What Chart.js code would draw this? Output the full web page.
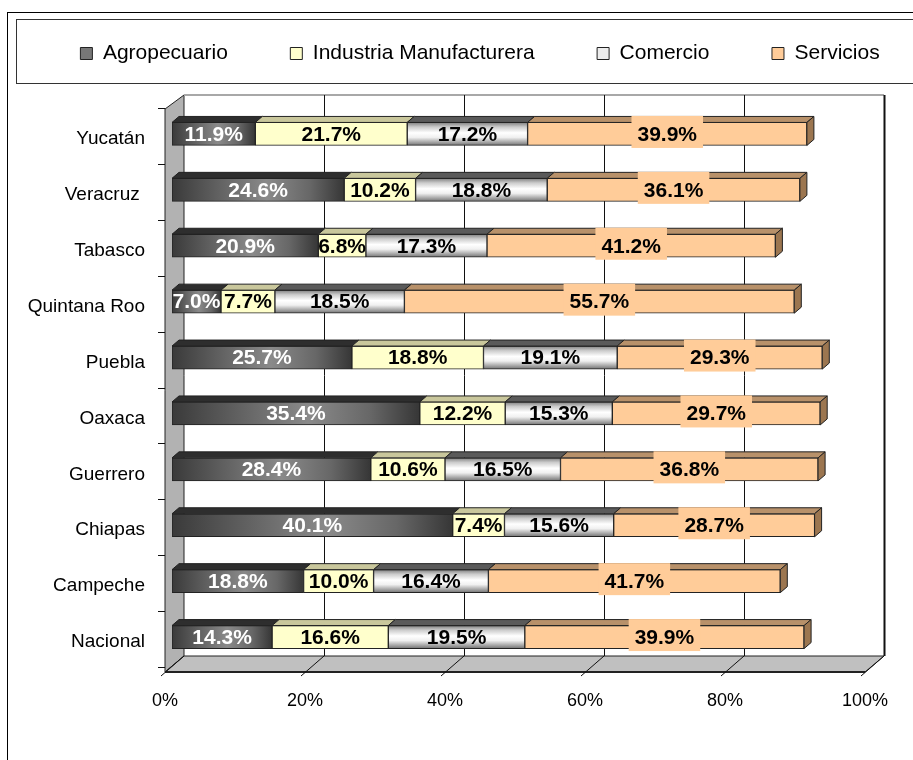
<!DOCTYPE html>
<html>
<head>
<meta charset="utf-8">
<script src="https://cdn.jsdelivr.net/npm/chart.js@4.4.0/dist/chart.umd.min.js"></script>
<style>
  html, body { margin: 0; padding: 0; background: #fff; }
  canvas { display: block; }
</style>
</head>
<body>
<canvas id="graphSecteurs" width="913" height="760"></canvas>
<script>
//********************************************************************Données*****************************************************************

const ESTADOS = ['Yucatán', 'Veracruz ', 'Tabasco', 'Quintana Roo', 'Puebla', 'Oaxaca', 'Guerrero', 'Chiapas', 'Campeche', 'Nacional']
const SECTORES = ['Agropecuario', 'Industria Manufacturera', 'Comercio', 'Servicios']

const AGRO = [11.9, 24.6, 20.9, 7.0, 25.7, 35.4, 28.4, 40.1, 18.8, 14.3]
const INDUSTRIA = [21.7, 10.2, 6.8, 7.7, 18.8, 12.2, 10.6, 7.4, 10.0, 16.6]
const COMERCIO = [17.2, 18.8, 17.3, 18.5, 19.1, 15.3, 16.5, 15.6, 16.4, 19.5]
const SERVICIOS = [39.9, 36.1, 41.2, 55.7, 29.3, 29.7, 36.8, 28.7, 41.7, 39.9]

const X_TICKS = [0, 20, 40, 60, 80, 100]

// couleurs de face avant (légende) puis des faces du dessus en 3D
const COULEURS = ['#777777', '#FFFFCC', '#EDEDED', '#FFCC99']
const COULEURS_DESSUS = ['#2e2e2e', '#C9C79C', '#5a5a5a', '#B8916A']
const COULEUR_BOUT = '#9C7650'

const POLICE = '"Liberation Sans", Arial, sans-serif'

//********************************************************************Dégradés*****************************************************************

// dégradé horizontal sombre / clair / sombre pour l'agropecuario
function fondAgro(ctx) {
  if (ctx.type !== 'data') return COULEURS[0]
  const x = ctx.chart.scales.x
  if (!x) return COULEURS[0]
  const x0 = x.getPixelForValue(0)
  const x1 = x.getPixelForValue(AGRO[ctx.dataIndex])
  if (!isFinite(x0) || !isFinite(x1) || x1 === x0) return COULEURS[0] // échelles pas encore prêtes
  const g = ctx.chart.ctx.createLinearGradient(x0, 0, x1, 0)
  g.addColorStop(0, '#3a3a3a')
  g.addColorStop(0.55, '#8a8a8a')
  g.addColorStop(0.8, '#676767')
  g.addColorStop(1, '#363636')
  return g
}

// dégradé vertical "métal" pour le commerce
function fondComercio(ctx) {
  if (ctx.type !== 'data') return COULEURS[2]
  const y = ctx.chart.scales.y
  if (!y) return COULEURS[2]
  const yc = y.getPixelForValue(ctx.dataIndex)
  if (!isFinite(yc)) return COULEURS[2]
  const g = ctx.chart.ctx.createLinearGradient(0, yc - 11.5, 0, yc + 11.5)
  g.addColorStop(0, '#808080')
  g.addColorStop(0.2, '#cccccc')
  g.addColorStop(0.45, '#ffffff')
  g.addColorStop(0.65, '#f0f0f0')
  g.addColorStop(1, '#737373')
  return g
}

//********************************************************************Plugin 3D*****************************************************************

const cadre3D = {
  id: 'cadre3D',

  beforeDraw(chart) {
    const c = chart.ctx
    c.save()
    c.fillStyle = '#fff'
    c.fillRect(0, 0, chart.width, chart.height)
    c.lineWidth = 1
    c.strokeStyle = '#000'
    c.strokeRect(7.5, 12.5, chart.width, chart.height) // cadre extérieur, coupé à droite et en bas
    c.strokeStyle = '#333'
    c.strokeRect(16.5, 19.5, chart.width, 64) // cadre de la légende
    c.restore()
  },

  beforeDatasetsDraw(chart) {
    const { ctx: c, chartArea: a, scales: { x } } = chart
    const L = a.left, R = a.right, T = a.top, B = a.bottom
    c.save()
    c.lineWidth = 1
    c.strokeStyle = '#222'

    // mur de gauche
    c.fillStyle = '#B2B2B2'
    c.beginPath()
    c.moveTo(L - 7, T + 3); c.lineTo(L + 12, T - 11); c.lineTo(L + 12, B - 9); c.lineTo(L - 7, B + 7)
    c.closePath(); c.fill(); c.stroke()

    // sol
    c.fillStyle = '#C0C0C0'
    c.beginPath()
    c.moveTo(L - 7, B + 7); c.lineTo(L + 12, B - 9); c.lineTo(R + 12, B - 9); c.lineTo(R - 7, B + 7)
    c.closePath(); c.fill(); c.stroke()
    c.lineWidth = 2
    c.beginPath(); c.moveTo(L - 7, B + 7); c.lineTo(R - 7, B + 7); c.stroke()

    // bord du haut du mur du fond
    c.strokeStyle = '#A8A8A8'
    c.beginPath(); c.moveTo(L + 12, T - 11); c.lineTo(R + 12, T - 11); c.stroke()

    // lignes de la grille sur le fond et sur le sol
    c.strokeStyle = '#111'
    X_TICKS.forEach(v => {
      const px = x.getPixelForValue(v)
      c.lineWidth = v === 100 ? 2 : 1
      if (v > 0) {
        c.beginPath(); c.moveTo(px + 12.5, T - 11); c.lineTo(px + 12.5, B - 9); c.stroke()
      }
      c.lineWidth = 1
      c.beginPath(); c.moveTo(px + 12, B - 9); c.lineTo(px - 11, B + 11); c.stroke()
    })

    // petites graduations de l'axe des catégories
    const pas = (B - T) / ESTADOS.length
    for (let i = 0; i <= ESTADOS.length; i++) {
      const yb = Math.round(T + i * pas + 2) + 0.5
      c.beginPath(); c.moveTo(L - 14, yb); c.lineTo(L - 7, yb); c.stroke()
    }
    c.restore()
  },

  afterDatasetsDraw(chart) {
    const c = chart.ctx
    const n = chart.data.datasets.length
    c.save()
    c.lineWidth = 1
    c.strokeStyle = '#222'

    // faces du dessus et bout des barres
    for (let d = 0; d < n; d++) {
      chart.getDatasetMeta(d).data.forEach(el => {
        const x0 = Math.min(el.base, el.x), x1 = Math.max(el.base, el.x)
        const yt = el.y - el.height / 2, yb = el.y + el.height / 2
        c.fillStyle = COULEURS_DESSUS[d]
        c.beginPath()
        c.moveTo(x0, yt); c.lineTo(x0 + 7, yt - 6); c.lineTo(x1 + 7, yt - 6); c.lineTo(x1, yt)
        c.closePath(); c.fill(); c.stroke()
        if (d === n - 1) {
          c.fillStyle = COULEUR_BOUT
          c.beginPath()
          c.moveTo(x1, yt); c.lineTo(x1 + 7, yt - 6); c.lineTo(x1 + 7, yb - 6); c.lineTo(x1, yb)
          c.closePath(); c.fill(); c.stroke()
        }
      })
    }

    // étiquettes de valeurs
    c.font = 'bold 21px ' + POLICE
    c.textAlign = 'center'
    c.textBaseline = 'middle'
    for (let d = 0; d < n; d++) {
      const valeurs = chart.data.datasets[d].data
      chart.getDatasetMeta(d).data.forEach((el, i) => {
        const texte = valeurs[i].toFixed(1) + '%'
        const cx = (el.base + el.x) / 2
        if (d === n - 1) {
          const w = c.measureText(texte).width + 12
          c.fillStyle = COULEURS[d]
          c.fillRect(cx - w / 2, el.y - 18, w, 32)
        }
        c.fillStyle = d === 0 ? '#fff' : '#000'
        c.fillText(texte, cx, el.y + 1)
      })
    }
    c.restore()
  }
}

//********************************************************************Graphe*****************************************************************

document.addEventListener('DOMContentLoaded', function () {
  const ESPACES = '         ' // pour écarter les éléments de la légende comme dans Excel
  const FIN = '    ' // décale la légende (alignée à droite) vers la gauche

  const config = {
    type: 'bar',
    data: {
      labels: ESTADOS,
      datasets: [
        { label: SECTORES[0], data: AGRO, backgroundColor: fondAgro },
        { label: SECTORES[1], data: INDUSTRIA, backgroundColor: COULEURS[1] },
        { label: SECTORES[2], data: COMERCIO, backgroundColor: fondComercio },
        { label: SECTORES[3], data: SERVICIOS, backgroundColor: COULEURS[3] }
      ]
    },
    options: {
      indexAxis: 'y',
      responsive: false,
      animation: false,
      layout: { padding: { top: 33, left: 20, right: 0, bottom: 0 } },
      datasets: {
        bar: { barThickness: 23, borderWidth: 1, borderColor: '#222', borderSkipped: false }
      },
      scales: {
        x: {
          stacked: true,
          min: 0,
          max: 100,
          afterBuildTicks: s => { s.ticks = X_TICKS.map(v => ({ value: v })) },
          afterFit: s => { s.height = 95 },
          grid: { display: false, drawTicks: true, tickLength: 22 }, // la grille est dessinée par le plugin 3D
          border: { display: false },
          ticks: {
            callback: v => v + '%',
            color: '#000',
            font: { family: POLICE, size: 18 },
            padding: 3,
            labelOffset: -7,
            maxRotation: 0
          }
        },
        espace: { // axe vide qui sert juste d'espace entre la légende et le graphe
          axis: 'x',
          type: 'linear',
          position: 'top',
          afterFit: s => { s.height = 32 },
          grid: { display: false, drawTicks: false },
          border: { display: false },
          ticks: { display: false }
        },
        y: {
          stacked: true,
          afterFit: s => { s.width = 152 },
          grid: { display: false, drawTicks: false },
          border: { display: false },
          ticks: {
            color: '#000',
            font: { family: POLICE, size: 19 },
            padding: 27,
            labelOffset: 5
          }
        },
        droite: { // marge à droite du graphe
          axis: 'y',
          type: 'linear',
          position: 'right',
          afterFit: s => { s.width = 41 },
          grid: { display: false, drawTicks: false },
          border: { display: false },
          ticks: { display: false }
        }
      },
      plugins: {
        tooltip: { enabled: false },
        legend: {
          position: 'top',
          align: 'end',
          labels: {
            color: '#000',
            font: { family: POLICE, size: 21 },
            boxWidth: 12,
            boxHeight: 12,
            padding: 10,
            generateLabels(chart) {
              const items = Chart.defaults.plugins.legend.labels.generateLabels(chart)
              items.forEach((it, i) => {
                it.fillStyle = COULEURS[i]
                it.strokeStyle = '#222'
                it.lineWidth = 1
                it.text += i < items.length - 1 ? ESPACES : FIN
              })
              return items
            }
          }
        }
      }
    },
    plugins: [cadre3D]
  }

  const DISPLAYGRAPH = document.getElementById('graphSecteurs')
  new Chart(DISPLAYGRAPH, config)
})
</script>
</body>
</html>
